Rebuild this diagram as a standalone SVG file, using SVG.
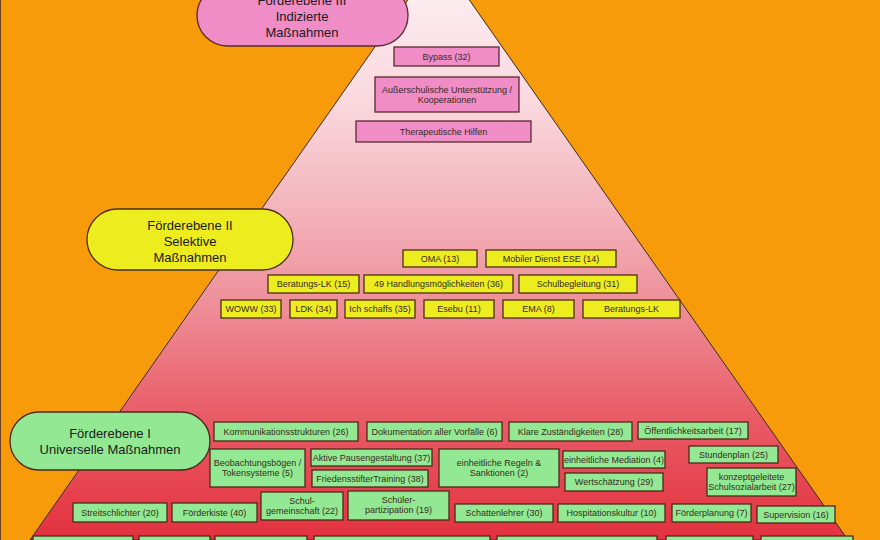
<svg xmlns="http://www.w3.org/2000/svg" width="880" height="540" viewBox="0 0 880 540">
<defs>
<linearGradient id="tri" gradientUnits="userSpaceOnUse" x1="0" y1="-44" x2="0" y2="540">
<stop offset="0" stop-color="#fdf3f6"/>
<stop offset="0.25" stop-color="#f9d8de"/>
<stop offset="0.45" stop-color="#f3b0b8"/>
<stop offset="0.6" stop-color="#ee8e98"/>
<stop offset="0.78" stop-color="#e95e69"/>
<stop offset="1" stop-color="#e3313e"/>
</linearGradient>
</defs>
<style>
text{font-family:"Liberation Sans",Arial,sans-serif;fill:#3a2a20;text-anchor:middle}
.big{font-size:13px;fill:#1a1a1a}
.sm{font-size:9px}
.p rect{fill:#f08cc6;stroke:#5a2a30;stroke-width:1.3}
.y rect{fill:#ecec1e;stroke:#4a3010;stroke-width:1.3}
.g rect{fill:#93e993;stroke:#4a2a18;stroke-width:1.3}
</style>
<rect x="0" y="0" width="880" height="540" fill="#f79b0b"/>
<line x1="0.5" y1="0" x2="0.5" y2="540" stroke="#6a4020" stroke-width="1"/>
<polygon points="438.5,-44 30,540 848,540" fill="url(#tri)" stroke="#3a2a20" stroke-width="1"/>

<g id="level3" class="p">
<rect x="197" y="-15" width="211" height="61" rx="30.5"/>
<text class="big" x="302" y="5">Förderebene III</text>
<text class="big" x="302" y="21">Indizierte</text>
<text class="big" x="302" y="37">Maßnahmen</text>
</g>
<g id="bypass" class="p"><rect x="394" y="47" width="105" height="19"/><text class="sm" x="446.5" y="60">Bypass (32)</text></g>
<g id="ausserschulisch" class="p"><rect x="375" y="77" width="144" height="35"/><text class="sm" x="447" y="93">Außerschulische Unterstützung /</text><text class="sm" x="447" y="103">Kooperationen</text></g>
<g id="therapeutisch" class="p"><rect x="356" y="121" width="175" height="21"/><text class="sm" x="443.5" y="135">Therapeutische Hilfen</text></g>

<g id="level2" class="y">
<rect x="87" y="209" width="206" height="61" rx="30.5"/>
<text class="big" x="190" y="230">Förderebene II</text>
<text class="big" x="190" y="246">Selektive</text>
<text class="big" x="190" y="262">Maßnahmen</text>
</g>
<g id="oma" class="y"><rect x="403" y="250" width="74" height="17"/><text class="sm" x="440" y="262">OMA (13)</text></g>
<g id="mobiler" class="y"><rect x="486" y="250" width="130" height="17"/><text class="sm" x="551" y="262">Mobiler Dienst ESE (14)</text></g>
<g id="beratung15" class="y"><rect x="268" y="275" width="91" height="18"/><text class="sm" x="313.5" y="287">Beratungs-LK (15)</text></g>
<g id="handlung" class="y"><rect x="364" y="275" width="149" height="18"/><text class="sm" x="438.5" y="287">49 Handlungsmöglichkeiten (36)</text></g>
<g id="schulbegleitung" class="y"><rect x="519" y="275" width="118" height="18"/><text class="sm" x="578" y="287">Schulbegleitung (31)</text></g>
<g id="woww" class="y"><rect x="221" y="300" width="60" height="18"/><text class="sm" x="251" y="312">WOWW (33)</text></g>
<g id="ldk" class="y"><rect x="290" y="300" width="47" height="18"/><text class="sm" x="313.5" y="312">LDK (34)</text></g>
<g id="ichschaffs" class="y"><rect x="345" y="300" width="70" height="18"/><text class="sm" x="380" y="312">Ich schaffs (35)</text></g>
<g id="esebu" class="y"><rect x="424" y="300" width="70" height="18"/><text class="sm" x="459" y="312">Esebu (11)</text></g>
<g id="ema" class="y"><rect x="503" y="300" width="71" height="18"/><text class="sm" x="538.5" y="312">EMA (8)</text></g>
<g id="beratunglk" class="y"><rect x="583" y="300" width="97" height="18"/><text class="sm" x="631.5" y="312">Beratungs-LK</text></g>

<g id="level1" class="g">
<rect x="10" y="412" width="200" height="58" rx="29"/>
<text class="big" x="110" y="438">Förderebene I</text>
<text class="big" x="110" y="454">Universelle Maßnahmen</text>
</g>
<g id="kommunikation" class="g"><rect x="214" y="422" width="144" height="19"/><text class="sm" x="286" y="435">Kommunikationsstrukturen (26)</text></g>
<g id="dokumentation" class="g"><rect x="367" y="422" width="135" height="19"/><text class="sm" x="434.5" y="435">Dokumentation aller Vorfälle (6)</text></g>
<g id="zustaendig" class="g"><rect x="509" y="422" width="123" height="19"/><text class="sm" x="570.5" y="435">Klare Zuständigkeiten (28)</text></g>
<g id="oeffentlich" class="g"><rect x="638" y="422" width="110" height="17"/><text class="sm" x="693" y="434">Öffentlichkeitsarbeit (17)</text></g>
<g id="beobachtung" class="g"><rect x="210" y="449" width="95" height="38"/><text class="sm" x="257.5" y="466">Beobachtungsbögen /</text><text class="sm" x="257.5" y="476">Tokensysteme (5)</text></g>
<g id="pausen" class="g"><rect x="311" y="449" width="121" height="17"/><text class="sm" x="371.5" y="461">Aktive Pausengestaltung (37)</text></g>
<g id="friedens" class="g"><rect x="312" y="470" width="116" height="17"/><text class="sm" x="370" y="482">FriedensstifterTraining (38)</text></g>
<g id="regeln" class="g"><rect x="439" y="449" width="120" height="38"/><text class="sm" x="499" y="466">einheitliche Regeln &amp;</text><text class="sm" x="499" y="476">Sanktionen (2)</text></g>
<g id="mediation" class="g"><rect x="563" y="451" width="102" height="17"/><text class="sm" x="614" y="463">einheitliche Mediation (4)</text></g>
<g id="wertschaetzung" class="g"><rect x="565" y="473" width="98" height="18"/><text class="sm" x="614" y="485">Wertschätzung (29)</text></g>
<g id="stundenplan" class="g"><rect x="689" y="446" width="89" height="17"/><text class="sm" x="733.5" y="458">Stundenplan (25)</text></g>
<g id="schulsozial" class="g"><rect x="707" y="468" width="89" height="28"/><text class="sm" x="751.5" y="480">konzeptgeleitete</text><text class="sm" x="751.5" y="490">Schulsozialarbeit (27)</text></g>
<g id="streit" class="g"><rect x="73" y="503" width="94" height="19"/><text class="sm" x="120" y="516">Streitschlichter (20)</text></g>
<g id="foerderkiste" class="g"><rect x="172" y="503" width="85" height="19"/><text class="sm" x="214.5" y="516">Förderkiste (40)</text></g>
<g id="schulgemeinschaft" class="g"><rect x="261" y="492" width="82" height="28"/><text class="sm" x="302" y="504">Schul-</text><text class="sm" x="302" y="514">gemeinschaft (22)</text></g>
<g id="schuelerpartizipation" class="g"><rect x="348" y="491" width="101" height="29"/><text class="sm" x="398.5" y="503">Schüler-</text><text class="sm" x="398.5" y="513">partizipation (19)</text></g>
<g id="schattenlehrer" class="g"><rect x="455" y="504" width="98" height="18"/><text class="sm" x="504" y="516">Schattenlehrer (30)</text></g>
<g id="hospitation" class="g"><rect x="558" y="504" width="107" height="18"/><text class="sm" x="611.5" y="516">Hospitationskultur (10)</text></g>
<g id="foerderplanung" class="g"><rect x="672" y="504" width="79" height="18"/><text class="sm" x="711.5" y="516">Förderplanung (7)</text></g>
<g id="supervision" class="g"><rect x="757" y="506" width="78" height="17"/><text class="sm" x="796" y="518">Supervision (16)</text></g>
<g id="bottom1" class="g"><rect x="33" y="536" width="100" height="20"/></g>
<g id="bottom2" class="g"><rect x="139" y="536" width="71" height="20"/></g>
<g id="bottom3" class="g"><rect x="215" y="536" width="92" height="20"/></g>
<g id="bottom4" class="g"><rect x="314" y="536" width="176" height="20"/></g>
<g id="bottom5" class="g"><rect x="497" y="536" width="160" height="20"/></g>
<g id="bottom6" class="g"><rect x="666" y="536" width="87" height="20"/></g>
<g id="bottom7" class="g"><rect x="761" y="536" width="92" height="20"/></g>
<g id="connectors"></g>
</svg>
